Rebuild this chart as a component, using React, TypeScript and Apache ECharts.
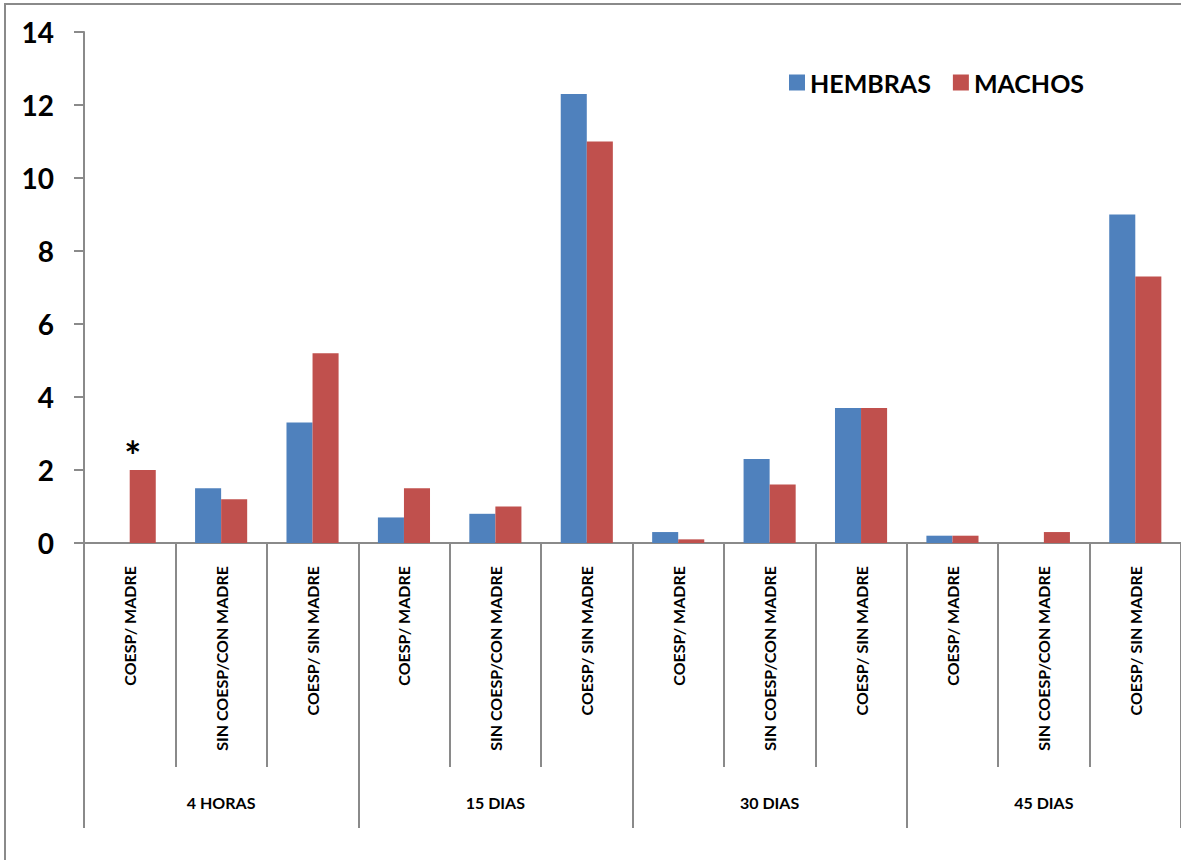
import React, { useEffect, useRef } from "react";
import * as echarts from "echarts";

const categories = [
  "COESP/ MADRE", "SIN COESP/CON MADRE", "COESP/ SIN MADRE",
  "COESP/ MADRE", "SIN COESP/CON MADRE", "COESP/ SIN MADRE",
  "COESP/ MADRE", "SIN COESP/CON MADRE", "COESP/ SIN MADRE",
  "COESP/ MADRE", "SIN COESP/CON MADRE", "COESP/ SIN MADRE",
];
const groups = ["4 HORAS", "15 DIAS", "30 DIAS", "45 DIAS"];
const hembras = [0, 1.5, 3.3, 0.7, 0.8, 12.3, 0.3, 2.3, 3.7, 0.2, 0, 9.0];
const machos = [2.0, 1.2, 5.2, 1.5, 1.0, 11.0, 0.1, 1.6, 3.7, 0.2, 0.3, 7.3];
const yTicks = { min: 0, max: 14, interval: 2 };
const markedIndex = 0; // asterisk over MACHOS, 4 HORAS COESP/ MADRE

const FONT = "Lato, 'Open Sans', sans-serif";
const GRAY = "#8a8a8a";

export default function App() {
  const ref = useRef<HTMLDivElement>(null);
  useEffect(() => {
    if (!ref.current) return;
    const chart = echarts.init(ref.current, undefined, { renderer: "svg" });
    chart.setOption({
      animation: false,
      backgroundColor: "#ffffff",
      textStyle: { fontFamily: FONT },
      graphic: [
        {
          type: "rect",
          shape: { x: 5, y: 4, width: 1400, height: 1000 },
          style: { fill: "none", stroke: GRAY, lineWidth: 2 },
          silent: true,
        },
      ],
      legend: {
        left: 789,
        top: 70,
        padding: 0,
        itemWidth: 16,
        itemHeight: 16,
        itemGap: 22,
        icon: "rect",
        textStyle: { fontFamily: FONT, fontWeight: "bold", fontSize: 25, color: "#000" },
        data: ["HEMBRAS", "MACHOS"],
      },
      grid: { left: 84, top: 32, right: -3, bottom: 317, containLabel: false },
      xAxis: [
        {
          type: "category",
          data: categories,
          position: "bottom",
          axisLine: { show: true, lineStyle: { color: GRAY, width: 2 } },
          axisTick: { show: true, interval: 0, length: 224, lineStyle: { color: GRAY, width: 2 } },
          axisLabel: {
            interval: 0,
            rotate: 90,
            margin: 23,
            fontFamily: FONT,
            fontWeight: "bold",
            fontSize: 16,
            color: "#000",
          },
        },
        {
          type: "category",
          data: groups,
          position: "bottom",
          axisLine: { show: false },
          axisTick: { show: true, interval: 0, length: 285, lineStyle: { color: GRAY, width: 2 } },
          axisLabel: {
            interval: 0,
            margin: 251,
            fontFamily: FONT,
            fontWeight: "bold",
            fontSize: 16,
            color: "#000",
          },
        },
      ],
      yAxis: {
        type: "value",
        min: yTicks.min,
        max: yTicks.max,
        interval: yTicks.interval,
        splitLine: { show: false },
        axisLine: { show: true, lineStyle: { color: GRAY, width: 2 } },
        axisTick: { show: true, length: 10, lineStyle: { color: GRAY, width: 2 } },
        axisLabel: {
          margin: 30,
          fontFamily: FONT,
          fontWeight: "bold",
          fontSize: 28,
          color: "#000",
        },
      },
      series: [
        {
          name: "HEMBRAS",
          type: "bar",
          data: hembras,
          barGap: "0%",
          barCategoryGap: "43%",
          itemStyle: { color: "#4F81BD" },
        },
        {
          name: "MACHOS",
          type: "bar",
          data: machos.map((v, i) =>
            i === markedIndex
              ? {
                  value: v,
                  label: {
                    show: true,
                    position: "top",
                    formatter: "*",
                    offset: [-10, 11],
                    fontFamily: FONT,
                    fontWeight: "bold",
                    fontSize: 40,
                    color: "#000",
                  },
                }
              : v
          ),
          barGap: "0%",
          barCategoryGap: "43%",
          itemStyle: { color: "#C0504D" },
        },
      ],
    });
    return () => chart.dispose();
  }, []);
  return (
    <div
      ref={ref}
      style={{ position: "absolute", left: 0, top: 0, width: 1181, height: 860 }}
    />
  );
}
